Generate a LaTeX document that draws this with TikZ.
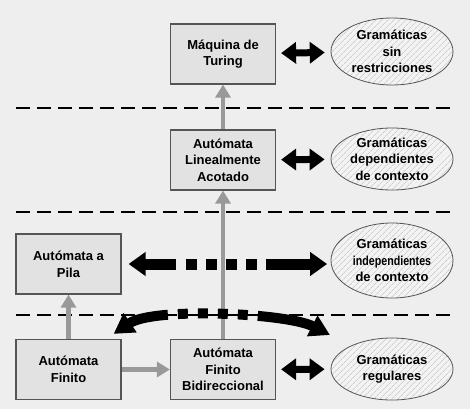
\documentclass[tikz,border=0pt]{standalone}
\usepackage{fontspec}
\setmainfont{Liberation Sans}
\usetikzlibrary{arrows.meta}
\usetikzlibrary{shapes}
\usetikzlibrary{patterns.meta}
\usetikzlibrary{positioning}

\definecolor{fondo}{HTML}{EEEEEE}
\definecolor{caja}{HTML}{E2E2E2}
\definecolor{borde}{HTML}{555555}
\definecolor{elipse}{HTML}{F3F3F3}
\definecolor{rayas}{HTML}{BBBBBB}
\definecolor{gris}{HTML}{999999}

\begin{document}
\begin{tikzpicture}[
    x=1pt, y=-1pt,
    font=\bfseries\fontsize{13}{16.7}\selectfont
]
\tikzset{
    automata/.style = {rectangle, draw=borde, line width=1.2pt, fill=caja, minimum width=105pt, minimum height=60pt, align=center, inner sep=0pt},
    gramatica/.style = {ellipse, draw=borde, line width=0.8pt, preaction={fill=elipse}, pattern={Lines[angle=45,distance=4pt,line width=0.6pt]}, pattern color=rayas, minimum width=122pt, minimum height=62pt, align=center, inner sep=-1pt},
    edgeg/.style = {-{Triangle[length=13pt,width=15pt]}, line width=4.5pt, gris},
    edgeb/.style = {{Triangle[length=15pt,width=21pt]}-{Triangle[length=15pt,width=21pt]}, line width=7pt, shorten <=5pt, shorten >=6pt},
    edgep/.style = {{Triangle[length=17pt,width=23pt]}-{Triangle[length=17pt,width=23pt]}, line width=11pt},
    separa/.style = {line width=1.6pt, dash pattern=on 14pt off 7pt}
}
\fill[fondo] (0,0) rectangle (470,409);
\useasboundingbox (0,0) rectangle (470,409);
% niveles
\draw[separa] (16,108) -- (452,108);
\draw[separa] (16,212) -- (452,212);
\draw[separa] (16,315) -- (452,315);
% automatas
\node[automata] at (223,54)    (turing) {Máquina de\\Turing};
\node[automata] at (223,160)   (ala)    {Autómata\\Linealmente\\Acotado};
\node[automata] at (68.5,264)  (pila)   {Autómata a\\Pila};
\node[automata] at (68.5,369.5) (af)    {Autómata\\Finito};
\node[automata] at (223,369.5) (afb)    {Autómata\\Finito\\Bidireccional};
% gramaticas
\node[gramatica, minimum height=67pt] at (392,51.5)  (gsin) {Gramáticas\\sin\\restricciones};
\node[gramatica]                      at (392,159)   (gdep) {Gramáticas\\dependientes\\de contexto};
\node[gramatica, minimum height=75pt] at (392,260.5) (gind) {Gramáticas\\\scalebox{0.82}[1]{independientes}\\de contexto};
\node[gramatica]                      at (392,369)   (greg) {Gramáticas\\regulares};
% jerarquia
\draw[edgeg] (ala) -- (turing);
\draw[edgeg] (afb) -- (ala);
\draw[edgeg] (af) -- (pila);
\draw[edgeg] (af) -- (afb);
% equivalencias
\draw[edgeb] (turing) -- (gsin);
\draw[edgeb] (ala) -- (gdep);
\draw[edgeb] (afb) -- (greg);
\draw[edgep, shorten <=7pt, shorten >=3.5pt, dash pattern=on 31pt off 10pt on 11pt off 9pt on 11pt off 9pt on 11pt off 9pt on 11pt off 9pt on 200pt] (pila.east) -- (pila.east -| gind.west);
\draw[edgep, line width=10pt, {Triangle[length=20pt,width=22pt]}-{Triangle[length=20pt,width=22pt]}, dash pattern=on 40pt off 10pt on 10pt off 10pt on 10pt off 10pt on 10pt off 10pt on 10pt off 10pt on 300pt] ([shift={(-8,-5)}]af.north east) .. controls +(40,-27) and +(-43,-22) .. ([shift={(-62,-34)}]greg.center);
\end{tikzpicture}
\end{document}
